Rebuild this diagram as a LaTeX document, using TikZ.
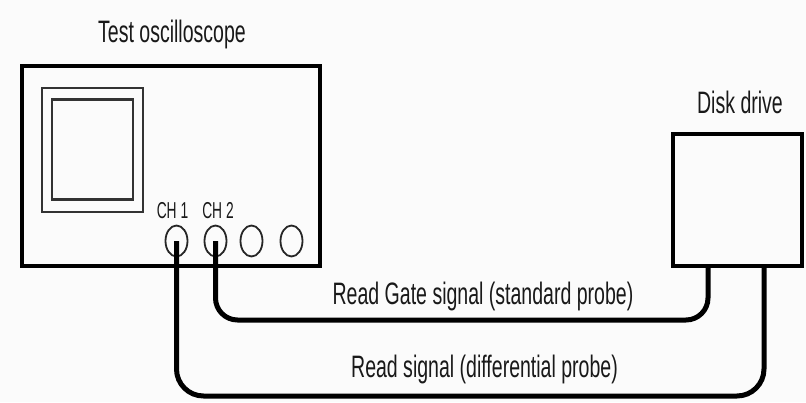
\documentclass[tikz,border=0pt]{standalone}
\usepackage{fontspec}
\setmainfont{Liberation Sans}[FakeStretch=0.63]
\newfontfamily\chfont{Liberation Sans}[FakeStretch=0.6]
\usetikzlibrary{shapes.geometric,calc}
\begin{document}
\begin{tikzpicture}[x=1pt,y=-1pt,
  box/.style={draw=black,line width=3.5pt,fill=gray!3,inner sep=0pt,outer sep=0pt},
  screenbox/.style={draw=black!80,line width=2.2pt,inner sep=0pt,outer sep=0pt},
  jack/.style={draw=black!85,ellipse,line width=1.8pt,minimum width=22pt,minimum height=31pt,inner sep=0pt},
  cable/.style={draw=black,line width=5pt},
  lab/.style={font=\fontsize{31}{33}\selectfont,anchor=base,inner sep=0pt,text=black!90},
  chlab/.style={font=\chfont\fontsize{23}{25}\selectfont,anchor=base,inner sep=0pt,text=black!90}]
\useasboundingbox (0,0) rectangle (806,402);
\fill[gray!3] (0,0) rectangle (806,402);
% oscilloscope
\node (scope) [box,minimum width=298pt,minimum height=200pt,anchor=north west] at (22,66) {};
\node (screen) [screenbox,minimum width=101pt,minimum height=124pt,anchor=north west] at (42,88) {};
\node (inner) [screenbox,minimum width=81pt,minimum height=100pt,anchor=north west] at (52,99.5) {};
\node (title) [lab] at (172,42.5) {Test oscilloscope};
\node (l1) [chlab] at (172.5,218) {CH 1};
\node (l2) [chlab] at (218,218) {CH 2};
\node (ch1) [jack] at (176.5,241) {};
\node (ch2) [jack] at (215.5,241) {};
\node (ch3) [jack] at (251.5,241) {};
\node (ch4) [jack] at (291.5,241) {};
% disk drive
\node (disk) [box,minimum width=129pt,minimum height=132pt,anchor=north west] at (673,134) {};
\node (dlab) [lab] at (740,113) {Disk drive};
\path (disk.south west) ++(35,0) coordinate (dg) ++(56,0) coordinate (dr);
\coordinate (row1) at (0,320);
\coordinate (row2) at (0,396);
% cables
\draw[cable,rounded corners=22pt] (ch2.center) |- (row1 -| dg) -- (dg);
\draw[cable,rounded corners=27pt] (ch1.center) |- (row2 -| dr) -- (dr);
\node (sig1) [lab] at (483,304) {Read Gate signal (standard probe)};
\node (sig2) [lab] at (484.5,377) {Read signal (differential probe)};
\end{tikzpicture}
\end{document}
